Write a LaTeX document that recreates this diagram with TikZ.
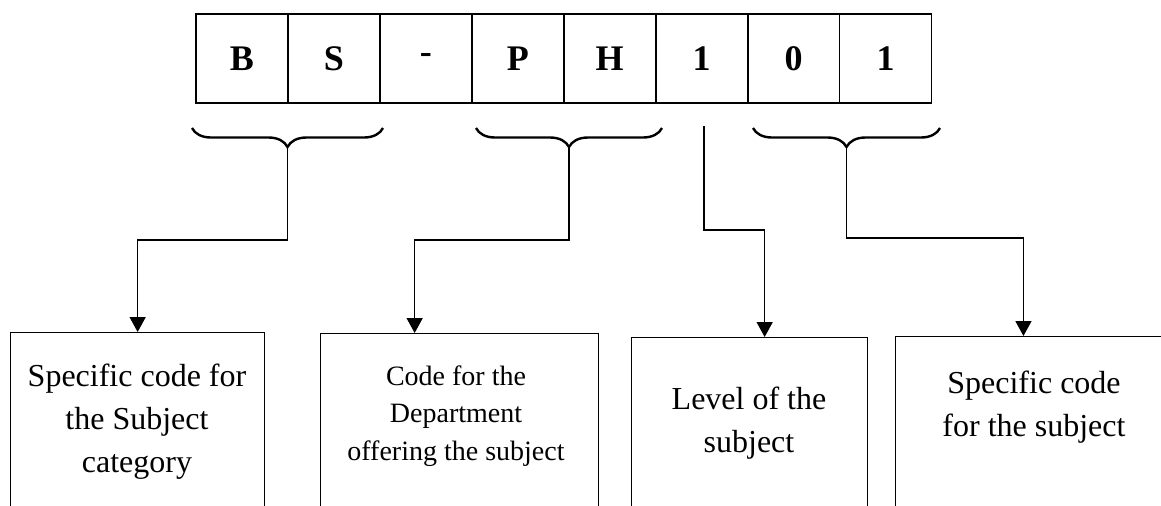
\documentclass[tikz,border=0pt]{standalone}
\usepackage{fontspec}
\setmainfont{Liberation Serif}
\usetikzlibrary{arrows.meta,decorations.pathreplacing}

\tikzset{
	cell/.style={draw, line width=0.9pt, minimum width=45.97pt, minimum height=44.5pt, inner sep=0pt, font=\fontsize{18}{21}\selectfont\bfseries},
	codebrace/.style={decorate, decoration={brace, amplitude=9.5pt, mirror}, line width=1.2pt},
	link/.style={line width=0.8pt, -{Triangle[length=7.5pt, width=8pt]}},
	codebox/.style={draw, line width=0.65pt, anchor=north west, minimum height=95pt, inner sep=0pt},
	boxtext/.style={align=center, inner sep=0pt, font=\fontsize{16}{21.5}\selectfont},
}

\begin{document}
\begin{tikzpicture}[x=0.5pt, y=-0.5pt]
	\useasboundingbox (0,0) rectangle (1161,505);
	\clip (0,0) rectangle (1161,505);

	% the code, one letter per cell
	\foreach \ch [count=\i] in {B,S,-,P,H,1,0,1}
		\node [cell] (c\i) at ({196+91.94*(\i-0.5)},58.5) {\ch};

	\coordinate (bstip) at (287.5,147);
	\coordinate (phtip) at (569,147);
	\coordinate (numtip) at (846.5,147);
	\coordinate (lvtop) at (704,126);

	\draw [codebrace] (192,128) -- (383,128);
	\draw [codebrace] (476,128) -- (662,128);
	\draw [codebrace] (753,128) -- (940,128);

	% boxes below
	\node [codebox, minimum width=127pt] (catbox) at (10,332) {};
	\node [codebox, minimum width=139pt] (deptbox) at (320,333) {};
	\node [codebox, minimum width=118pt] (levbox) at (631,337) {};
	\node [codebox, minimum width=139pt] (spcbox) at (895,336) {};

	\node [boxtext] (cattext) at (137,422) {Specific code for\\the Subject\\category};
	\node [boxtext, font=\fontsize{14}{18.75}\selectfont] (depttext) at (456,416) {Code for the\\Department\\offering the subject};
	\node [boxtext] (levtext) at (749,423) {Level of the\\subject};
	\node [boxtext] (spctext) at (1034,407) {Specific code\\for the subject};

	\draw [link] (bstip) -- ++(0,93) -| (catbox.north);
	\draw [link] (phtip) -- ++(0,93) -| ([xshift=-22.5pt]deptbox.north);
	\draw [link] (lvtop) -- ++(0,104) -| ([xshift=7.5pt]levbox.north);
	\draw [link] (numtip) -- ++(0,91) -| ([xshift=-5.6pt]spcbox.north);
\end{tikzpicture}
\end{document}
